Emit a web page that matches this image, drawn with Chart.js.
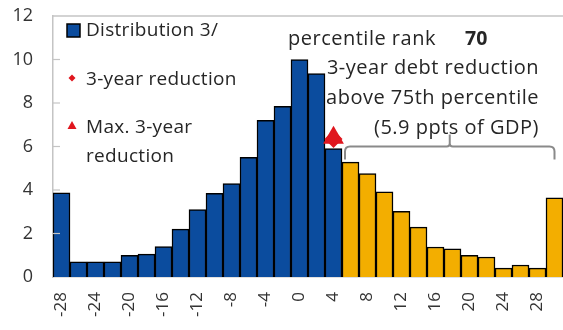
<!DOCTYPE html>
<html><head><meta charset="utf-8">
<script src="https://cdn.jsdelivr.net/npm/chart.js@4.4.1/dist/chart.umd.min.js"></script>
<style>html,body{margin:0;padding:0;background:#fff;}#wrap{width:563px;height:330px;position:relative;overflow:hidden;}</style>
</head><body><div id="wrap"><canvas id="c" width="563" height="330"></canvas></div>
<script>
// ---- data ----
const categories = ['-28','-26','-24','-22','-20','-18','-16','-14','-12','-10','-8','-6','-4','-2','0','2','4','6','8','10','12','14','16','18','20','22','24','26','28','30'];
const distribution = [3.87,0.7,0.7,0.7,1.0,1.05,1.4,2.2,3.1,3.85,4.3,5.5,7.2,7.85,10.0,9.35,5.9,5.28,4.75,3.92,3.02,2.29,1.38,1.29,1.0,0.92,0.41,0.55,0.41,3.64];
const thresholdCategory = 4;          // last bar below the 75th percentile
const reductionPoint = [{x:'4', y:6.35}];
const maxReductionPoint = [{x:'4', y:6.4}];
const yTicks = [0,2,4,6,8,10,12];
const bracketFrom = '6', bracketTo = '30', bracketLevel = 6.0, bracketEnd = 5.4, bracketNotch = 6.55;
const legendLabels = ['Distribution 3/', '3-year reduction', ['Max. 3-year','reduction']];
const rankLabel = 'percentile rank', rankValue = '70';
const noteLines = ['3-year debt reduction', 'above 75th percentile', '(5.9 ppts of GDP)'];

const BLUE = '#0B4C9E', GOLD = '#F3AE00', RED = '#E0161E', AXIS = '#c4c4c4', TXT = '#262626';
const FONT = '"Open Sans"';

const overlay = {
  id: 'overlay',
  afterDraw(chart) {
    const {ctx, chartArea: a, scales: {x, y}} = chart;
    ctx.save();
    // top border
    ctx.strokeStyle = AXIS; ctx.lineWidth = 1.5;
    ctx.beginPath(); ctx.moveTo(a.left, a.top); ctx.lineTo(a.right, a.top); ctx.stroke();
    // inward y ticks
    ctx.lineWidth = 1.2;
    yTicks.forEach(v => { if (v === 0 || v === 12) return; const py = y.getPixelForValue(v);
      ctx.beginPath(); ctx.moveTo(a.left, py); ctx.lineTo(a.left + 7, py); ctx.stroke(); });
    // bracket
    const half = (x.getPixelForValue(1) - x.getPixelForValue(0)) / 2;
    const L = x.getPixelForValue(categories.indexOf(bracketFrom)) - half + 3;
    const R = x.getPixelForValue(categories.indexOf(bracketTo));
    const M = (L + R) / 2;
    const yt = y.getPixelForValue(bracketLevel), ye = y.getPixelForValue(bracketEnd), yn = y.getPixelForValue(bracketNotch);
    const r = 5;
    ctx.strokeStyle = '#8a8a8a'; ctx.lineWidth = 2;
    ctx.beginPath();
    ctx.moveTo(L, ye); ctx.lineTo(L, yt + r); ctx.quadraticCurveTo(L, yt, L + r, yt);
    ctx.lineTo(M - 3, yt); ctx.quadraticCurveTo(M, yt, M, yt - 3); ctx.lineTo(M, yn);
    ctx.moveTo(M, yt - 3); ctx.quadraticCurveTo(M, yt, M + 3, yt);
    ctx.lineTo(R - r, yt); ctx.quadraticCurveTo(R, yt, R, yt + r); ctx.lineTo(R, ye);
    ctx.stroke();
    // annotation text
    ctx.fillStyle = TXT; ctx.textBaseline = 'middle';
    ctx.letterSpacing = '0.5px';
    ctx.font = `20px ${FONT}`; ctx.textAlign = 'left';
    ctx.fillText(rankLabel, 288, 39);
    ctx.letterSpacing = '0px';
    ctx.font = `bold 19.5px ${FONT}`;
    ctx.fillText(rankValue, 465, 39);
    ctx.letterSpacing = '0.5px';
    ctx.font = `20px ${FONT}`; ctx.textAlign = 'right';
    noteLines.forEach((t, i) => ctx.fillText(t, 539, 68 + i * 30));
    // legend
    ctx.textAlign = 'left'; ctx.font = `19px ${FONT}`; ctx.letterSpacing = '0.3px';
    ctx.fillStyle = BLUE; ctx.strokeStyle = '#000'; ctx.lineWidth = 1.5;
    ctx.fillRect(67, 24, 13, 13); ctx.strokeRect(67, 24, 13, 13);
    ctx.fillStyle = TXT; ctx.fillText(legendLabels[0], 86, 31);
    ctx.fillStyle = RED;
    ctx.beginPath(); ctx.moveTo(72, 74.5); ctx.lineTo(75.5, 78); ctx.lineTo(72, 81.5); ctx.lineTo(68.5, 78); ctx.closePath(); ctx.fill();
    ctx.fillStyle = TXT; ctx.fillText(legendLabels[1], 86, 80);
    ctx.fillStyle = RED;
    ctx.beginPath(); ctx.moveTo(72, 121); ctx.lineTo(76.5, 129); ctx.lineTo(67.5, 129); ctx.closePath(); ctx.fill();
    ctx.fillStyle = TXT; ctx.fillText(legendLabels[2][0], 86, 128); ctx.fillText(legendLabels[2][1], 86, 157);
    ctx.restore();
  }
};

new Chart(document.getElementById('c'), {
  data: {
    labels: categories,
    datasets: [
      { type: 'line', label: 'Max. 3-year reduction', data: maxReductionPoint, showLine: false,
        pointStyle: 'triangle', pointRadius: 12, pointBackgroundColor: RED, pointBorderColor: RED, pointBorderWidth: 0, order: 0 },
      { type: 'line', label: '3-year reduction', data: reductionPoint, showLine: false,
        pointStyle: 'rectRot', pointRadius: 9, pointBackgroundColor: RED, pointBorderColor: RED, pointBorderWidth: 0, order: 1 },
      { type: 'bar', label: 'Distribution 3/', data: distribution,
        backgroundColor: categories.map(c => Number(c) <= thresholdCategory ? BLUE : GOLD),
        borderColor: '#000', borderWidth: 1.5, barPercentage: 1, categoryPercentage: 1, order: 2 }
    ]
  },
  options: {
    responsive: false, animation: false, devicePixelRatio: 1,
    layout: { autoPadding: false, padding: { top: 16, right: -2, left: 0, bottom: 0 } },
    plugins: { legend: { display: false }, tooltip: { enabled: false } },
    scales: {
      x: {
        grid: { display: false, drawTicks: false },
        border: { display: true, color: AXIS, width: 1.5 },
        ticks: { autoSkip: false, maxRotation: 90, minRotation: 90, padding: 15, color: '#333',
          font: { family: 'Open Sans', size: 17 },
          callback: (v, i) => Number(categories[i]) % 4 === 0 ? categories[i] : '' },
        afterFit: s => { s.height = 53; s.paddingLeft = 0; s.paddingRight = 0; }
      },
      y: {
        min: 0, max: 12,
        afterBuildTicks: s => { s.ticks = yTicks.map(v => ({ value: v })); },
        grid: { display: false, drawTicks: false },
        border: { display: true, color: AXIS, width: 1.5 },
        ticks: { padding: 20, color: '#333', font: { family: 'Open Sans', size: 18 } },
        afterFit: s => { s.width = 53; s.paddingTop = 0; s.paddingBottom = 0; }
      }
    }
  },
  plugins: [overlay]
});
</script>
</body></html>
